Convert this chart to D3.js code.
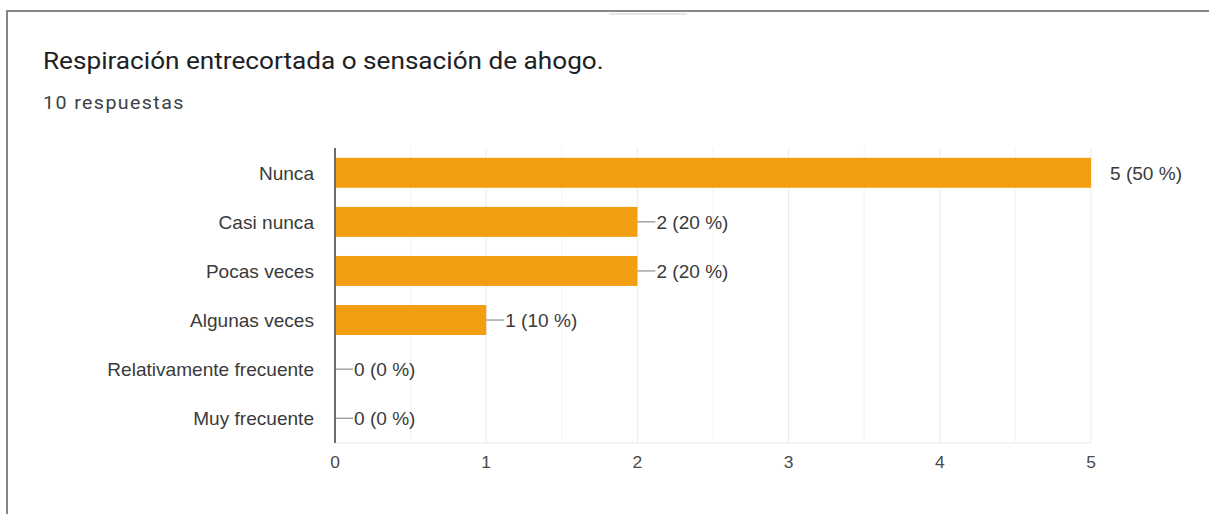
<!DOCTYPE html>
<html>
<head>
<meta charset="utf-8">
<script src="https://cdn.jsdelivr.net/npm/d3@7"></script>
<style>
  html, body { margin: 0; padding: 0; background: #fff; }
  svg { display: block; }
</style>
</head>
<body>
<svg id="chart" width="1209" height="514"></svg>
<script>
// Survey answers for the question
const title = "Respiración entrecortada o sensación de ahogo.";
const subtitle = "10 respuestas";
const categories = ["Nunca", "Casi nunca", "Pocas veces", "Algunas veces", "Relativamente frecuente", "Muy frecuente"];
const counts = [5, 2, 2, 1, 0, 0];
const percents = [50, 20, 20, 10, 0, 0];
const tickValues = [0, 1, 2, 3, 4, 5];

const svg = d3.select("#chart");
const stretch = 1.09;   // text is drawn slightly wide

// card frame (top and left edges)
svg.append("path")
  .attr("d", "M7,520 L7,11 L1215,11")
  .attr("fill", "none")
  .attr("stroke", "#858585")
  .attr("stroke-width", 2);
svg.append("rect")
  .attr("x", 609).attr("y", 13).attr("width", 78).attr("height", 2)
  .attr("fill", "#e6e6e6");

function wideText(sel, x, y) {
  return sel.attr("x", 0).attr("y", 0)
    .attr("transform", `translate(${x},${y}) scale(${stretch},1)`);
}

wideText(svg.append("text"), 43, 69)
  .attr("font-family", "Roboto, sans-serif")
  .attr("font-size", 24)
  .attr("fill", "#202124")
  .text(title);

wideText(svg.append("text"), 43, 109)
  .attr("font-family", "Roboto, sans-serif")
  .attr("font-size", 18)
  .attr("letter-spacing", 1.3)
  .attr("fill", "#3c4043")
  .text(subtitle);

const plotLeft = 335, plotRight = 1091, plotTop = 148, plotBottom = 443;

const x = d3.scaleLinear().domain([0, 5]).range([plotLeft, plotRight]);
const y = d3.scaleBand().domain(categories).range([plotTop, plotBottom]).paddingInner(0.39).paddingOuter(0.2);

const labelFont = "'Liberation Sans', Arial, sans-serif";

// vertical gridlines every half unit
const gridVals = d3.range(0.5, 5.01, 0.5);
svg.append("g").selectAll("line")
  .data(gridVals)
  .join("line")
  .attr("x1", d => x(d)).attr("x2", d => x(d))
  .attr("y1", plotTop).attr("y2", plotBottom)
  .attr("stroke", d => Number.isInteger(d) ? "#ebebeb" : "#f3f3f3")
  .attr("stroke-width", 1);

// bottom baseline of plot area
svg.append("line")
  .attr("x1", plotLeft).attr("x2", plotRight)
  .attr("y1", plotBottom).attr("y2", plotBottom)
  .attr("stroke", "#ebebeb");

// bars
svg.append("g").selectAll("rect")
  .data(categories)
  .join("rect")
  .attr("x", x(0))
  .attr("y", d => y(d))
  .attr("width", (d, i) => x(counts[i]) - x(0))
  .attr("height", y.bandwidth())
  .attr("fill", "#f29e12");

// vertical axis line at zero
svg.append("line")
  .attr("x1", x(0)).attr("x2", x(0))
  .attr("y1", plotTop).attr("y2", plotBottom)
  .attr("stroke", "#6b6b6b")
  .attr("stroke-width", 2);

// x axis tick labels
svg.append("g")
  .attr("font-family", labelFont)
  .attr("font-size", 16)
  .attr("fill", "#4a4a4a")
  .attr("text-anchor", "middle")
  .selectAll("text")
  .data(tickValues)
  .join("text")
  .attr("transform", d => `translate(${x(d)},${plotBottom + 25}) scale(${stretch},1)`)
  .text(d => d3.format("d")(d));

// category labels
const yAxis = d3.axisLeft(y).tickSize(0).tickPadding(21);
const gy = svg.append("g").attr("transform", `translate(${plotLeft},0)`).call(yAxis);
gy.select(".domain").remove();
gy.selectAll("text")
  .attr("x", 0)
  .attr("dy", "0.4em")
  .attr("transform", `translate(-21,0) scale(${stretch},1)`)
  .attr("font-family", labelFont)
  .attr("font-size", 17.5)
  .attr("fill", "#3a3a3a");

// value annotations with stems
const ann = svg.append("g");
categories.forEach((c, i) => {
  const bx = x(counts[i]);
  const cy = y(c) + y.bandwidth() / 2;
  if (counts[i] < x.domain()[1]) {
    ann.append("line")
      .attr("x1", bx).attr("x2", bx + 18)
      .attr("y1", cy).attr("y2", cy)
      .attr("stroke", "#777").attr("stroke-width", 1);
  }
  wideText(ann.append("text"), bx + 19, cy)
    .attr("dy", "0.4em")
    .attr("font-family", labelFont)
    .attr("font-size", 17.5)
    .attr("fill", "#3a3a3a")
    .text(`${counts[i]} (${percents[i]} %)`);
});
</script>
</body>
</html>
